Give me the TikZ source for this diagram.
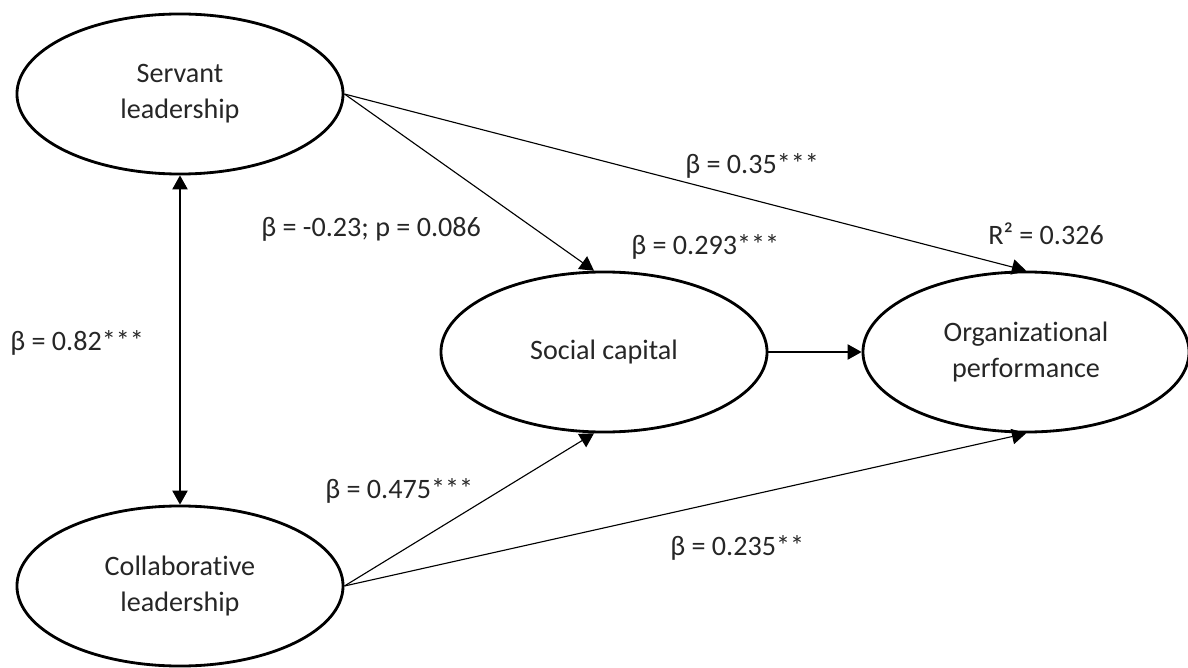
\documentclass[tikz,border=0pt]{standalone}
\usepackage{fontspec}
\setmainfont{Carlito}[Ligatures=NoCommon]
\usetikzlibrary{shapes.geometric,arrows.meta}
\begin{document}
\begin{tikzpicture}[x=0.025cm, y=-0.025cm,
                    latent/.style = {shape = ellipse,
                                     draw,
                                     line width = 2pt,
                                     minimum width = 8.15cm,
                                     minimum height = 4cm,
                                     inner sep = 0pt,
                                     align = center,
                                     text = black!85,
                                     font = \fontsize{20}{25.5}\selectfont},
                    coef/.style = {anchor = base west,
                                   inner sep = 0pt,
                                   text = black!85,
                                   font = \fontsize{20}{24}\selectfont},
                    link/.style = {line width = 0.8pt,
                                   -{Triangle[length=10pt,width=11pt]}}]
		\useasboundingbox (0,0) rectangle (1188,668);
		\node[latent] (sl) at (180,94) {Servant\\leadership};
		\node[latent] (cl) at (180,586) {Collaborative\\leadership};
		\node[latent] (sc) at (604,352) {Social capital};
		\node[latent] (op) at (1026,352) {Organizational\\performance};
		\draw[link, {Triangle[length=10pt,width=11pt]}-{Triangle[length=10pt,width=11pt]}] (sl.south) -- (cl.north);
		\draw[link] (sl.east) -- (sc.97);
		\draw[link] (sl.east) -- (op.north);
		\draw[link] (sc.east) -- (op.west);
		\draw[link] (cl.east) -- (sc.263);
		\draw[link] (cl.east) -- (op.south);
		% path coefficients
		\node[coef] (b35) at (685,174) {β = 0.35***};
		\node[coef] (b23) at (261,237) {β = -0.23; p = 0.086};
		\node[coef] (b293) at (631,255) {β = 0.293***};
		\node[coef] (r2) at (988,245) {R² = 0.326};
		\node[coef] (b82) at (10,350) {β = 0.82***};
		\node[coef] (b475) at (325,498) {β = 0.475***};
		\node[coef] (b235) at (670,555) {β = 0.235**};
	\end{tikzpicture}
\end{document}
